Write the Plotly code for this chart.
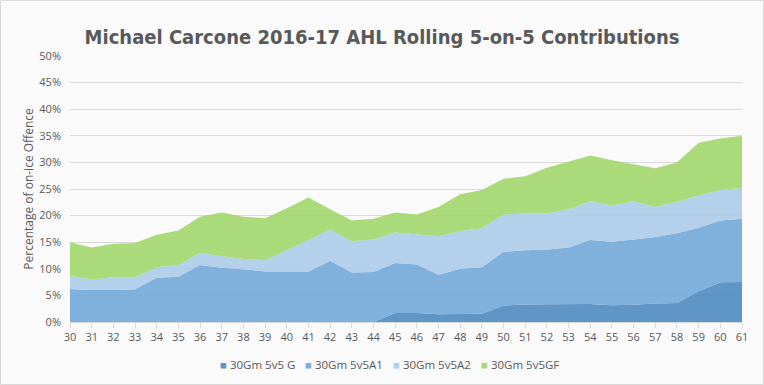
import plotly.graph_objects as go

games = list(range(30, 62))
g  = [0, 0, 0, 0, 0, 0, 0, 0, 0, 0, 0, 0, 0, 0, 0,
      1.7, 1.7, 1.45, 1.45, 1.55, 3.1, 3.3, 3.35, 3.4, 3.4, 3.15, 3.25, 3.5, 3.55, 5.8, 7.45, 7.5]
a1 = [6.2, 6.0, 6.0, 6.15, 8.3, 8.5, 10.7, 10.2, 9.9, 9.5, 9.5, 9.5, 11.5, 9.3, 9.4,
      9.4, 9.1, 7.45, 8.55, 8.75, 10.1, 10.2, 10.3, 10.6, 12.0, 11.95, 12.25, 12.5, 13.15, 11.9, 11.65, 11.9]
a2 = [2.4, 2.0, 2.4, 2.25, 2.0, 2.2, 2.3, 2.15, 1.95, 2.1, 4.0, 6.0, 5.9, 5.9, 6.1,
      5.7, 5.6, 7.2, 7.1, 7.3, 7.0, 6.9, 6.75, 7.2, 7.3, 6.8, 7.2, 5.6, 5.9, 6.1, 5.7, 5.8]
gf = [6.4, 6.0, 6.3, 6.45, 6.1, 6.5, 6.8, 8.25, 7.95, 7.9, 7.9, 7.9, 3.8, 3.9, 3.9,
      3.8, 3.8, 5.5, 6.9, 7.2, 6.75, 7.0, 8.6, 9.0, 8.6, 8.5, 7.0, 7.3, 7.4, 9.9, 9.7, 9.8]
names = ["30Gm 5v5 G", "30Gm 5v5A1", "30Gm 5v5A2", "30Gm 5v5GF"]
colors = ["rgba(79,139,192,0.9)", "rgba(114,169,217,0.9)",
          "rgba(172,203,233,0.9)", "rgba(161,214,106,0.9)"]
solid = ["#5f96c5", "#80b1dc", "#b4cfeb", "#aad978"]

W, H = 764, 385
L, R, T, B = 70, 22, 56, 63
pw, ph = W - L - R, H - T - B

fig = go.Figure()
for name, vals, col in zip(names, [g, a1, a2, gf], colors):
    fig.add_trace(go.Scatter(
        x=games, y=vals, name=name, mode="lines", stackgroup="one",
        line=dict(width=0, color=col), fillcolor=col, showlegend=False,
    ))

fig.update_layout(
    width=W, height=H,
    paper_bgcolor="#fafafa", plot_bgcolor="#fafafa",
    margin=dict(l=L, r=R, t=T, b=B, autoexpand=False),
    title=dict(text="<b>Michael Carcone 2016-17 AHL Rolling 5-on-5 Contributions</b>",
               x=0.5, xanchor="center", y=0.903, yanchor="middle",
               font=dict(family="DejaVu Sans Condensed", size=20, color="#595959")),
    font=dict(family="Open Sans", size=11, color="#595959"),
)
fig.update_xaxes(range=[30, 61], tickmode="array", tickvals=games,
                 ticktext=[str(v) for v in games],
                 showgrid=False, showline=True, linecolor="#d9d9d9", linewidth=1,
                 ticks="outside", ticklen=5, tickcolor="#d9d9d9",
                 tickfont=dict(size=11, color="#595959"), zeroline=False)
fig.update_yaxes(range=[0, 50], dtick=5, ticksuffix="%",
                 showgrid=True, gridcolor="#d9d9d9", gridwidth=1, zeroline=False,
                 layer="above traces", ticklabelstandoff=8,
                 title=dict(text="Percentage of on-ice Offence", font=dict(size=12, color="#595959"),
                            standoff=3),
                 tickfont=dict(size=11, color="#595959"))

# custom legend (small colored squares + labels)
leg_x = [218, 303, 391, 479]
leg_y = 364.5
for name, col, xp in zip(names, solid, leg_x):
    fig.add_annotation(xref="paper", yref="paper",
                       x=(xp - L) / pw, y=(T + ph - leg_y) / ph,
                       xanchor="left", yanchor="middle", showarrow=False,
                       text=f"<span style='color:{col}'>■</span> {name}",
                       font=dict(size=11.5, color="#595959"))

fig.add_shape(type="rect", xref="paper", yref="paper",
              x0=(0.5 - L) / pw, x1=(W - 0.5 - L) / pw,
              y0=(T + ph - (H - 0.5)) / ph, y1=(T + ph - 0.5) / ph,
              line=dict(color="#d9d9d9", width=1))

fig.write_html("out.html", config={"displayModeBar": False},
               post_script="document.body.style.margin='0';document.body.style.padding='0';")
